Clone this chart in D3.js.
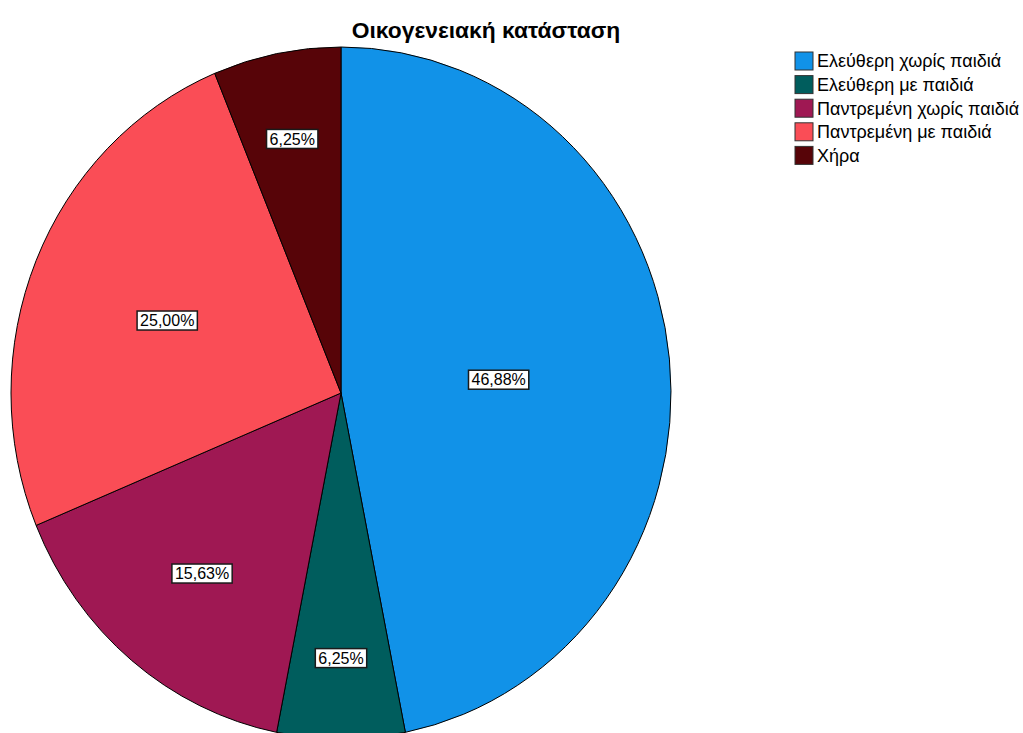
<!DOCTYPE html>
<html>
<head>
<meta charset="utf-8">
<script src="https://cdn.jsdelivr.net/npm/d3@7"></script>
<style>
  html, body { margin: 0; padding: 0; background: #ffffff; }
  svg { display: block; font-family: "Liberation Sans", Arial, sans-serif; }
</style>
</head>
<body>
<svg id="chart" width="1023" height="733"></svg>
<script>
const title = "Οικογενειακή κατάσταση";
const categories = ["Ελεύθερη χωρίς παιδιά", "Ελεύθερη με παιδιά", "Παντρεμένη χωρίς παιδιά", "Παντρεμένη με παιδιά", "Χήρα"];
const counts = [15, 2, 5, 8, 2];
const percentLabels = ["46,88%", "6,25%", "15,63%", "25,00%", "6,25%"];
const colors = ["#1192e8", "#005d5d", "#9f1853", "#fa4d56", "#570408"];

const svg = d3.select("#chart");
const cx = 341, cy = 393, rx = 330, ry = 346;

svg.append("text")
  .attr("x", 486).attr("y", 38)
  .attr("text-anchor", "middle")
  .attr("font-weight", "bold")
  .attr("font-size", 22.8)
  .attr("fill", "#000")
  .text(title);

const data = categories.map((c, i) => ({ name: c, value: counts[i], label: percentLabels[i], color: colors[i] }));
const total = d3.sum(counts);

const pie = d3.pie().value(d => d.value).sort(null);
const arcs = pie(data);
const arc = d3.arc().innerRadius(0).outerRadius(rx);

const g = svg.append("g").attr("transform", `translate(${cx},${cy}) scale(1,${ry / rx})`);
g.selectAll("path").data(arcs).enter().append("path")
  .attr("d", arc)
  .attr("fill", d => d.data.color)
  .attr("stroke", "#000")
  .attr("stroke-width", 1)
  .attr("vector-effect", "non-scaling-stroke");

const lg = svg.append("g");
arcs.forEach(d => {
  const p = d.data.value / total;
  const frac = Math.max(0.48, 0.82 - p);
  const a = (d.startAngle + d.endAngle) / 2;
  const x = cx + Math.sin(a) * rx * frac;
  const y = cy - Math.cos(a) * ry * frac + 3;
  const grp = lg.append("g").attr("transform", `translate(${x},${y})`);
  const t = grp.append("text")
    .attr("text-anchor", "middle")
    .attr("dy", "0.36em")
    .attr("font-size", 16)
    .attr("fill", "#000")
    .text(d.data.label);
  const w = t.node().getComputedTextLength();
  grp.insert("rect", "text")
    .attr("x", -w / 2 - 3).attr("y", -9.5)
    .attr("width", w + 6).attr("height", 19)
    .attr("fill", "#fff")
    .attr("stroke", "#1a1a1a")
    .attr("stroke-width", 1.5);
});

const legend = svg.append("g").attr("transform", "translate(795,52)");
const items = legend.selectAll("g").data(data).enter().append("g")
  .attr("transform", (d, i) => `translate(0,${i * 23.6})`);
items.append("rect")
  .attr("width", 18).attr("height", 18)
  .attr("fill", d => d.color)
  .attr("stroke", "#333").attr("stroke-width", 1);
items.append("text")
  .attr("x", 22).attr("y", 9).attr("dy", "0.36em")
  .attr("font-size", 18)
  .attr("fill", "#000")
  .text(d => d.name);
</script>
</body>
</html>
